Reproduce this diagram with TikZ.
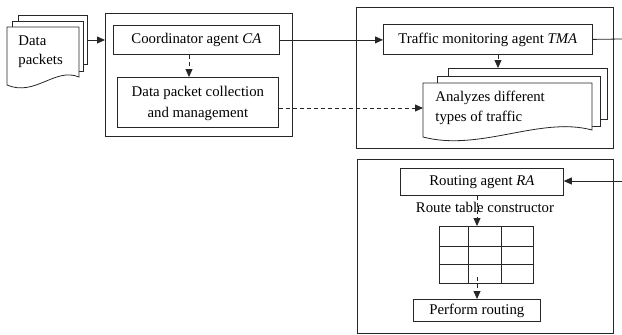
\documentclass[tikz,border=0pt]{standalone}
\usepackage{fontspec}
\setmainfont{Liberation Serif}
\usetikzlibrary{arrows.meta}
\begin{document}
\begin{tikzpicture}[x=1pt,y=-1pt,
  font=\fontsize{14.8}{17}\selectfont,
  line width=0.8pt, draw=black!85,
  box/.style={draw=black!85, line width=0.8pt, inner sep=0pt, anchor=north west},
  txt/.style={inner sep=0pt},
  arr/.style={-{Triangle[length=8pt,width=7pt]}, line width=0.8pt, draw=black!85},
  darr/.style={arr, dash pattern=on 4pt off 3pt},
  docl/.style={draw=black!85, fill=white, line width=0.8pt}]
\useasboundingbox (0,0) rectangle (622,335);

% ---- data packets (multi-document) ----
\draw[docl] (18,15) rectangle (87,64);
\draw[docl] (12,21) rectangle (83,71);
\draw[docl] (7,27) -- (79,27) -- (79,77) .. controls (55,67) and (35,97) .. (7,85) -- cycle;
\node[inner sep=0pt, minimum width=80pt, minimum height=49pt, anchor=north west] (dp) at (7,15) {};
\node[txt, anchor=west] (dpt1) at (18,41) {Data};
\node[txt, anchor=west] (dpt2) at (18,61) {packets};

% ---- coordinator region ----
\node[box, minimum width=187pt, minimum height=123pt] (outer1) at (105,13) {};
\node[box, minimum width=166pt, minimum height=29pt] (ca) at (113,25) {};
\node[txt] (cat) at (ca.center) {Coordinator agent \textit{CA}};
\node[box, minimum width=161pt, minimum height=50pt] (coll) at (117,77) {};
\node[txt, align=center] (collt) at ([yshift=-1pt]coll.center) {Data packet collection\\[4pt]and management};

% ---- traffic monitoring region ----
\node[box, minimum width=257pt, minimum height=141pt] (outer2) at (356,7) {};
\node[box, minimum width=209pt, minimum height=30pt] (tma) at (383,24) {};
\node[txt] (tmat) at (tma.center) {Traffic monitoring agent \textit{TMA}};
\draw[docl] (448,68) rectangle (607,119);
\draw[docl] (437,76) rectangle (600,126);
\draw[docl] (423,83) -- (592,83) -- (592,130) .. controls (540,116) and (480,152) .. (423,137) -- cycle;
\node[inner sep=0pt, minimum width=159pt, minimum height=51pt, anchor=north west] (an3) at (448,68) {};
\node[inner sep=0pt, minimum width=169pt, minimum height=54pt, anchor=north west] (an) at (423,83) {};
\node[txt, anchor=west] (ant1) at (435,98) {Analyzes different};
\node[txt, anchor=west] (ant2) at (435,118) {types of traffic};

% ---- routing region ----
\node[box, minimum width=256pt, minimum height=174pt] (outer3) at (357,159) {};
\node[box, minimum width=163pt, minimum height=27pt] (ra) at (400,168) {};
\node[txt] (rat) at (ra.center) {Routing agent \textit{RA}};
\node[txt] (rtc) at (485,207) {Route table constructor};
\node[box, minimum width=94pt, minimum height=57pt] (grid) at (439,226) {};
\draw[line width=0.8pt, draw=black!85] (468,226) -- (468,283) (501,226) -- (501,283)
  (439,246) -- (533,246) (439,264) -- (533,264);
\node[box, minimum width=127pt, minimum height=22pt] (pr) at (413,299) {};
\node[txt] (prt) at (pr.center) {Perform routing};

% ---- connectors ----
\coordinate (e1) at (622,39);
\coordinate (e2) at (622,181);
\coordinate (g1) at (477,277);
\draw[arr] (dp.east |- 0,40) -- (outer1.west |- 0,40);
\draw[arr] (ca.east) -- (tma.west |- ca.east);
\draw (tma.east) -- (e1);
\draw[darr] (ca.south -| 189,0) -- (coll.north -| 189,0);
\draw[darr] (coll.east |- 0,108) -- (an.west |- 0,108);
\draw[darr] (tma.south -| 498,0) -- (an3.north -| 498,0);
\draw[arr] (e2) -- (ra.east |- e2);
\draw[darr] (ra.south -| 477,0) -- (grid.north -| 477,0);
\draw[darr] (g1) -- (pr.north -| g1);
\end{tikzpicture}
\end{document}
